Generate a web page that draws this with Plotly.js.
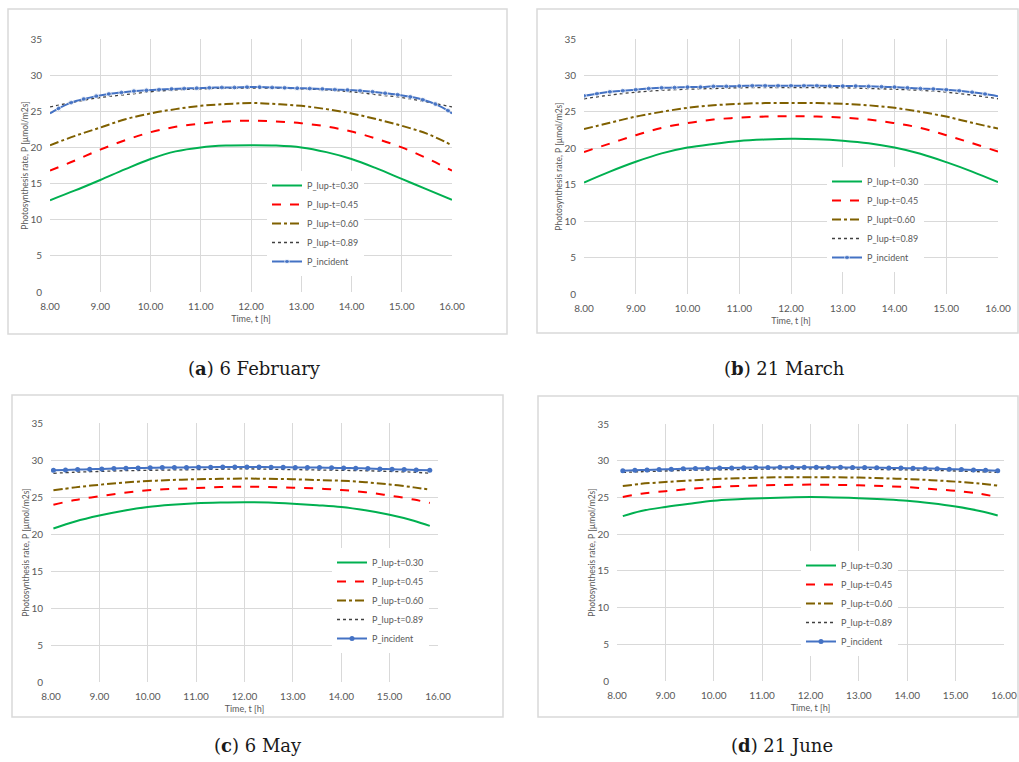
<!DOCTYPE html>
<html>
<head>
<meta charset="utf-8">
<script src="https://cdn.plot.ly/plotly-3.0.1.min.js"></script>
<style>html,body{margin:0;padding:0;background:#fff;}#chart{width:1019px;height:762px;}</style>
</head>
<body>
<div id="chart"></div>
<script>
// ---------- data ----------
const seriesNames = ["P_lup-t=0.30", "P_lup-t=0.45", "P_lup-t=0.60", "P_lup-t=0.89", "P_incident"];
const seriesNamesB = ["P_lup-t=0.30", "P_lup-t=0.45", "P_lupt=0.60", "P_lup-t=0.89", "P_incident"];
const captions = ["(<b>a</b>) 6 February", "(<b>b</b>) 21 March", "(<b>c</b>) 6 May", "(<b>d</b>) 21 June"];
const xTicks = [8, 9, 10, 11, 12, 13, 14, 15, 16];
const xTickLabels = ["8.00", "9.00", "10.00", "11.00", "12.00", "13.00", "14.00", "15.00", "16.00"];
const yTicks = [0, 5, 10, 15, 20, 25, 30, 35];

// (a) 6 February
const timeA = [8, 8.5, 9, 9.5, 10, 10.5, 11, 11.5, 12, 12.5, 13, 13.5, 14, 14.5, 15, 15.5, 16];
const a030 = [12.7, 14.05, 15.5, 17.0, 18.4, 19.45, 20.0, 20.25, 20.3, 20.25, 20.0, 19.35, 18.4, 17.1, 15.65, 14.2, 12.75];
const a045 = [16.8, 18.2, 19.7, 21.0, 22.1, 22.85, 23.3, 23.6, 23.7, 23.6, 23.35, 22.9, 22.2, 21.2, 20.0, 18.5, 16.8];
const a060 = [20.3, 21.6, 22.75, 23.9, 24.7, 25.3, 25.75, 26.0, 26.15, 26.0, 25.75, 25.3, 24.7, 23.9, 23.0, 21.9, 20.3];
const a089 = [25.6, 26.3, 26.9, 27.3, 27.7, 27.95, 28.1, 28.2, 28.2, 28.2, 28.1, 27.95, 27.7, 27.3, 26.9, 26.3, 25.6];
const timeIncA = [8.0, 8.17, 8.42, 8.67, 8.92, 9.17, 9.42, 9.67, 9.92, 10.17, 10.42, 10.67, 10.92, 11.17, 11.42, 11.67, 11.92,
                  12.17, 12.42, 12.67, 12.92, 13.17, 13.42, 13.67, 13.92, 14.17, 14.42, 14.67, 14.92, 15.17, 15.42, 15.67, 15.92, 16.0];
const aInc = [24.7, 25.4, 26.2, 26.7, 27.1, 27.4, 27.6, 27.8, 27.9, 28.0, 28.1, 28.15, 28.2, 28.25, 28.3, 28.3, 28.35,
              28.35, 28.3, 28.25, 28.2, 28.15, 28.1, 28.0, 27.95, 27.85, 27.7, 27.5, 27.3, 27.0, 26.6, 26.0, 25.1, 24.7];
const aIncMarked = [0, 1, 1, 1, 1, 1, 1, 1, 1, 1, 1, 1, 1, 1, 1, 1, 1, 1, 1, 1, 1, 1, 1, 1, 1, 1, 1, 1, 1, 1, 1, 1, 1, 0];

// (b) 21 March
const timeB = [8, 8.5, 9, 9.5, 10, 10.5, 11, 11.5, 12, 12.5, 13, 13.5, 14, 14.5, 15, 15.5, 16];
const b030 = [15.3, 16.8, 18.15, 19.3, 20.1, 20.6, 21.0, 21.2, 21.3, 21.25, 21.05, 20.7, 20.1, 19.25, 18.1, 16.8, 15.35];
const b045 = [19.5, 20.65, 21.8, 22.8, 23.45, 23.95, 24.2, 24.35, 24.4, 24.35, 24.2, 23.95, 23.45, 22.8, 21.8, 20.7, 19.55];
const b060 = [22.65, 23.5, 24.35, 25.0, 25.55, 25.9, 26.1, 26.2, 26.2, 26.2, 26.1, 25.9, 25.55, 25.0, 24.35, 23.5, 22.7];
const b089 = [26.8, 27.3, 27.7, 27.95, 28.1, 28.2, 28.3, 28.33, 28.33, 28.33, 28.3, 28.2, 28.1, 27.95, 27.7, 27.3, 26.8];
const timeIncB = [8.0, 8.25, 8.5, 8.75, 9.0, 9.25, 9.5, 9.75, 10.0, 10.25, 10.5, 10.75, 11.0, 11.25, 11.5, 11.75, 12.0,
                  12.25, 12.5, 12.75, 13.0, 13.25, 13.5, 13.75, 14.0, 14.25, 14.5, 14.75, 15.0, 15.25, 15.5, 15.75, 16.0];
const bInc = [27.2, 27.5, 27.75, 27.9, 28.05, 28.2, 28.3, 28.33, 28.4, 28.4, 28.5, 28.5, 28.55, 28.6, 28.6, 28.6, 28.6,
              28.6, 28.6, 28.55, 28.55, 28.55, 28.5, 28.45, 28.4, 28.3, 28.2, 28.15, 28.05, 27.9, 27.7, 27.45, 27.15];
const bIncMarked = [1, 1, 1, 1, 1, 1, 1, 1, 1, 1, 1, 1, 1, 1, 1, 1, 1, 1, 1, 1, 1, 1, 1, 1, 1, 1, 1, 1, 1, 1, 1, 1, 0];

// (c) 6 May
const timeC = [8.05, 8.5, 9, 9.5, 10, 10.5, 11, 11.5, 12, 12.5, 13, 13.5, 14, 14.5, 15, 15.5, 15.83];
const c030 = [20.75, 21.7, 22.5, 23.15, 23.65, 23.95, 24.15, 24.25, 24.3, 24.25, 24.1, 23.9, 23.65, 23.2, 22.6, 21.8, 21.1];
const c045 = [23.95, 24.6, 25.1, 25.55, 25.9, 26.1, 26.2, 26.35, 26.4, 26.35, 26.25, 26.15, 25.95, 25.65, 25.2, 24.65, 24.2];
const c060 = [25.9, 26.3, 26.65, 26.95, 27.15, 27.3, 27.4, 27.45, 27.5, 27.45, 27.4, 27.3, 27.2, 27.0, 26.7, 26.3, 26.0];
const c089 = [28.2, 28.35, 28.45, 28.55, 28.6, 28.65, 28.7, 28.75, 28.8, 28.75, 28.7, 28.65, 28.6, 28.55, 28.45, 28.35, 28.2];
const timeIncC = [8.05, 8.3, 8.55, 8.8, 9.05, 9.3, 9.55, 9.8, 10.05, 10.3, 10.55, 10.8, 11.05, 11.3, 11.55, 11.8,
                  12.05, 12.3, 12.55, 12.8, 13.05, 13.3, 13.55, 13.8, 14.05, 14.3, 14.55, 14.8, 15.05, 15.3, 15.55, 15.83];
const cInc = [28.6, 28.65, 28.7, 28.75, 28.8, 28.85, 28.9, 28.92, 28.95, 28.97, 29.0, 29.0, 29.02, 29.03, 29.05, 29.05,
              29.05, 29.05, 29.03, 29.02, 29.0, 29.0, 28.97, 28.95, 28.92, 28.9, 28.85, 28.8, 28.75, 28.7, 28.65, 28.6];

// (d) 21 June
const timeD = [8.12, 8.5, 9, 9.5, 10, 10.5, 11, 11.5, 12, 12.5, 13, 13.5, 14, 14.5, 15, 15.5, 15.87];
const d030 = [22.45, 23.15, 23.7, 24.15, 24.55, 24.75, 24.9, 25.0, 25.05, 25.0, 24.9, 24.75, 24.55, 24.2, 23.75, 23.15, 22.55];
const d045 = [25.05, 25.5, 25.85, 26.15, 26.4, 26.55, 26.65, 26.7, 26.75, 26.7, 26.65, 26.55, 26.4, 26.15, 25.9, 25.5, 25.05];
const d060 = [26.55, 26.85, 27.1, 27.3, 27.5, 27.6, 27.7, 27.75, 27.75, 27.75, 27.7, 27.6, 27.5, 27.35, 27.15, 26.9, 26.6];
const d089 = [28.4, 28.5, 28.6, 28.7, 28.75, 28.8, 28.85, 28.9, 28.9, 28.9, 28.85, 28.8, 28.75, 28.7, 28.6, 28.5, 28.4];
const timeIncD = [8.12, 8.37, 8.62, 8.87, 9.12, 9.37, 9.62, 9.87, 10.12, 10.37, 10.62, 10.87, 11.12, 11.37, 11.62, 11.87,
                  12.12, 12.37, 12.62, 12.87, 13.12, 13.37, 13.62, 13.87, 14.12, 14.37, 14.62, 14.87, 15.12, 15.37, 15.62, 15.87];
const dInc = [28.65, 28.7, 28.75, 28.8, 28.85, 28.9, 28.95, 28.97, 29.0, 29.02, 29.05, 29.07, 29.08, 29.1, 29.1, 29.1,
              29.1, 29.1, 29.1, 29.08, 29.07, 29.05, 29.02, 29.0, 28.97, 28.95, 28.9, 28.85, 28.8, 28.75, 28.7, 28.65];

// ---------- build ----------
const W = 1019, H = 762;
const styles = [
  {color: "#00b050", width: 2, dash: "solid"},
  {color: "#ff0000", width: 2, dash: "dash"},
  {color: "#7f6000", width: 2, dash: "dashdot"},
  {color: "#404040", width: 1.3, dash: "dot"},
  {color: "#4472c4", width: 2, dash: "solid"}
];
const panels = [
  {t: timeA, s: [a030, a045, a060, a089], ti: timeIncA, inc: aInc, mk: aIncMarked, names: seriesNames,
   px: [50, 452], py: [39, 292], box: [8, 9, 507, 334], leg: [267, 171], cap: [254, 368]},
  {t: timeB, s: [b030, b045, b060, b089], ti: timeIncB, inc: bInc, mk: bIncMarked, names: seriesNamesB,
   px: [584, 998], py: [39, 294], box: [537, 9, 1018, 333], leg: [827, 167], cap: [784, 368]},
  {t: timeC, s: [c030, c045, c060, c089], ti: timeIncC, inc: cInc, mk: null, names: seriesNames,
   px: [51, 438], py: [423, 682], box: [12, 395, 503, 717], leg: [332, 548], cap: [258, 745]},
  {t: timeD, s: [d030, d045, d060, d089], ti: timeIncD, inc: dInc, mk: null, names: seriesNames,
   px: [617, 1004], py: [424, 681], box: [538, 396, 1018, 717], leg: [801, 551], cap: [782, 745]}
];

const font = "Lato, 'Open Sans', sans-serif";
const gray = "#595959";
const traces = [];
const layout = {
  width: W, height: H, margin: {l: 0, r: 0, t: 0, b: 0},
  paper_bgcolor: "#ffffff", plot_bgcolor: "#ffffff",
  font: {family: font, color: gray, size: 10},
  shapes: [], annotations: [], showlegend: true
};

panels.forEach((p, i) => {
  const n = i + 1;
  const xa = n === 1 ? "x" : "x" + n, ya = n === 1 ? "y" : "y" + n;
  const lg = n === 1 ? "legend" : "legend" + n;
  for (let k = 0; k < 4; k++) {
    traces.push({
      type: "scatter", mode: "lines", x: p.t, y: p.s[k], name: p.names[k],
      xaxis: xa, yaxis: ya, legend: lg,
      line: {color: styles[k].color, width: styles[k].width, dash: styles[k].dash, shape: "spline", smoothing: 1}
    });
  }
  const sizes = p.mk ? p.mk.map(v => v ? 5 : 0) : 5;
  traces.push({
    type: "scatter", mode: "lines+markers", x: p.ti, y: p.inc, name: p.names[4],
    xaxis: xa, yaxis: ya, legend: lg,
    line: {color: styles[4].color, width: styles[4].width, shape: "spline", smoothing: 0.6},
    marker: {color: styles[4].color, size: sizes, symbol: "circle"}
  });
  const axX = {
    domain: [p.px[0] / W, p.px[1] / W], anchor: ya, range: [8, 16],
    tickvals: xTicks, ticktext: xTickLabels, showgrid: true, gridcolor: "#d9d9d9", gridwidth: 1,
    zeroline: false, showline: false, ticks: "", ticklabelstandoff: 7,
    tickfont: {size: 10, color: gray, family: font},
    title: {text: "Time, t [h]", font: {size: 9, color: gray, family: font}, standoff: 4},
    fixedrange: true
  };
  const axY = {
    domain: [1 - p.py[1] / H, 1 - p.py[0] / H], anchor: xa, range: [0, 35],
    tickvals: yTicks, showgrid: true, gridcolor: "#d9d9d9", gridwidth: 1,
    zeroline: false, showline: false, ticks: "", ticklabelstandoff: 7,
    tickfont: {size: 10, color: gray, family: font},
    title: {text: "Photosynthesis rate, P [µmol/m2s]", font: {size: 8.5, color: gray, family: font}, standoff: 0},
    fixedrange: true
  };
  layout[n === 1 ? "xaxis" : "xaxis" + n] = axX;
  layout[n === 1 ? "yaxis" : "yaxis" + n] = axY;
  layout[lg] = {
    x: p.leg[0] / W, y: 1 - p.leg[1] / H, xanchor: "left", yanchor: "top",
    bgcolor: "#ffffff", borderwidth: 0, font: {size: 9, color: gray, family: font},
    tracegroupgap: 0, itemwidth: 30, traceorder: "normal"
  };
  layout.shapes.push({
    type: "rect", xref: "paper", yref: "paper", layer: "below",
    x0: p.box[0] / W, x1: p.box[2] / W, y0: 1 - p.box[3] / H, y1: 1 - p.box[1] / H,
    line: {color: "#d9d9d9", width: 1.5}, fillcolor: "#ffffff"
  });
  layout.annotations.push({
    xref: "paper", yref: "paper", x: p.cap[0] / W, y: 1 - p.cap[1] / H,
    xanchor: "center", yanchor: "middle", showarrow: false, text: captions[i],
    font: {family: "'DejaVu Serif', 'Liberation Serif', serif", size: 18, color: "#1a1a1a"}
  });
});

Plotly.newPlot("chart", traces, layout, {displayModeBar: false, staticPlot: true});
</script>
</body>
</html>
